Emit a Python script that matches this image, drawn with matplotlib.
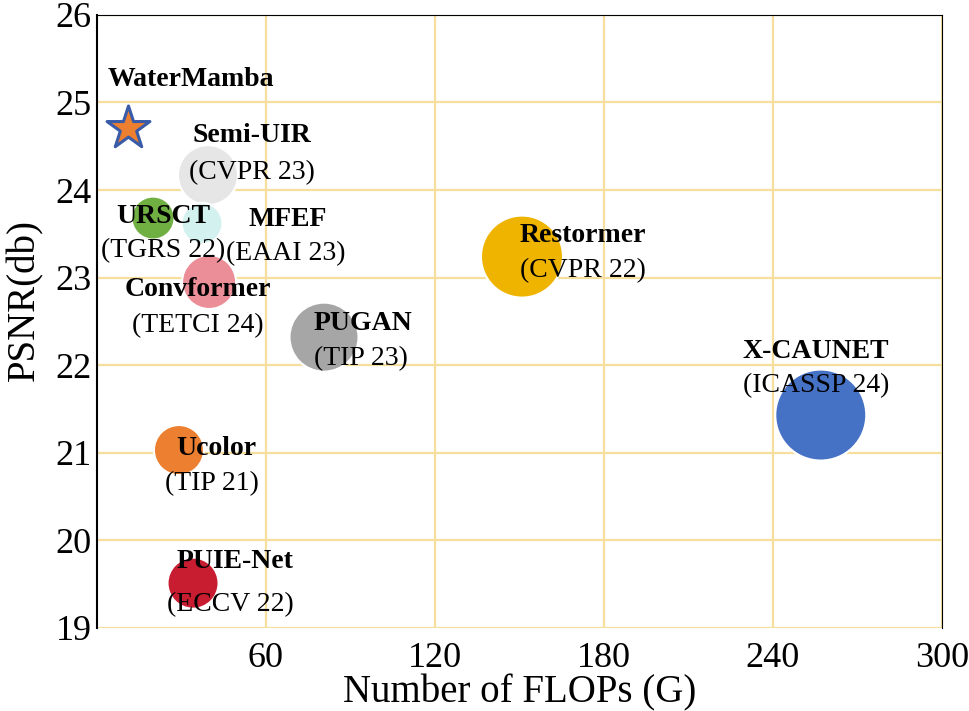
import matplotlib
matplotlib.use("Agg")
import matplotlib.pyplot as plt

plt.rcParams['font.family'] = ['Liberation Serif', 'DejaVu Serif']

# Data
methods = ["Semi-UIR", "URSCT", "MFEF", "Convformer", "PUGAN", "Restormer",
           "X-CAUNET", "Ucolor", "PUIE-Net"]
venues = ["(CVPR 23)", "(TGRS 22)", "(EAAI 23)", "(TETCI 24)", "(TIP 23)",
          "(CVPR 22)", "(ICASSP 24)", "(TIP 21)", "(ECCV 22)"]
flops = [39.4, 19.9, 37.3, 39.8, 80.6, 150.9, 257.0, 29.1, 34.1]
psnr = [24.17, 23.68, 23.62, 22.95, 22.32, 23.24, 21.43, 21.03, 19.51]
sizes = [1866, 958, 871, 1512, 2468, 3486, 4293, 1300, 1350]
colors = ["#e6e6e6", "#70b043", "#d3f1ef", "#ec8e98", "#a6a6a6", "#efb400",
          "#4672c6", "#ec7f30", "#c81d31"]

ours_name = "WaterMamba"
ours_flops = 11.0
ours_psnr = 24.71

xticks = [60, 120, 180, 240, 300]
yticks = [19, 20, 21, 22, 23, 24, 25, 26]

# label offsets in pixels (name dx, name dy, venue dx, venue dy), +y up
name_off = [(44, 40), (10, 2), (86, 4), (-11, -8), (39, 14), (61, 21),
            (-5, 64), (37, 2), (42, 22)]
venue_off = [(44, 3), (10, -33), (84, -30), (-11, -44), (37, -21), (61, -14),
             (-5, 29), (33, -34), (37, -21)]

fig = plt.figure(figsize=(9.7, 7.11), dpi=100)
ax = fig.add_axes([0.1, 0.117, 0.871, 0.862])

grid_c = "#f6df9c"
ax.set_xlim(0, 300)
ax.set_ylim(19, 26)
ax.set_xticks(xticks)
ax.set_yticks(yticks)
ax.grid(True, color=grid_c, linewidth=1.6, zorder=0)
ax.set_axisbelow(True)

ax.scatter(flops, psnr, s=sizes, c=colors, edgecolors="white", linewidths=1.5,
           zorder=3)
ax.scatter([ours_flops], [ours_psnr], s=1050, marker="*", c="#ec7f30",
           edgecolors="#3a5ba8", linewidths=2.2, zorder=4)

px2pt = 0.72
for m, v, x, y, no, vo in zip(methods, venues, flops, psnr, name_off, venue_off):
    ax.annotate(m, (x, y), xytext=(no[0] * px2pt, no[1] * px2pt),
                textcoords="offset points", ha="center", va="center",
                fontsize=20, fontweight="bold", zorder=5)
    ax.annotate(v, (x, y), xytext=(vo[0] * px2pt, vo[1] * px2pt),
                textcoords="offset points", ha="center", va="center",
                fontsize=20, zorder=5)
ax.annotate(ours_name, (ours_flops, ours_psnr), xytext=(63 * px2pt, 48 * px2pt),
            textcoords="offset points", ha="center", va="center",
            fontsize=20, fontweight="bold", zorder=5)

ax.tick_params(axis="both", labelsize=26, length=0, pad=10)
ax.tick_params(axis="y", pad=4)
ax.set_xlabel("Number of FLOPs (G)", fontsize=28, labelpad=0)
ax.set_ylabel("PSNR(db)", fontsize=28)
ax.yaxis.set_label_coords(-0.064, 0.535)

ax.spines["bottom"].set_visible(False)
ax.spines["left"].set_linewidth(1.5)
ax.spines["top"].set_linewidth(0.8)
ax.spines["right"].set_linewidth(0.8)

fig.savefig("out.png", dpi=100)
